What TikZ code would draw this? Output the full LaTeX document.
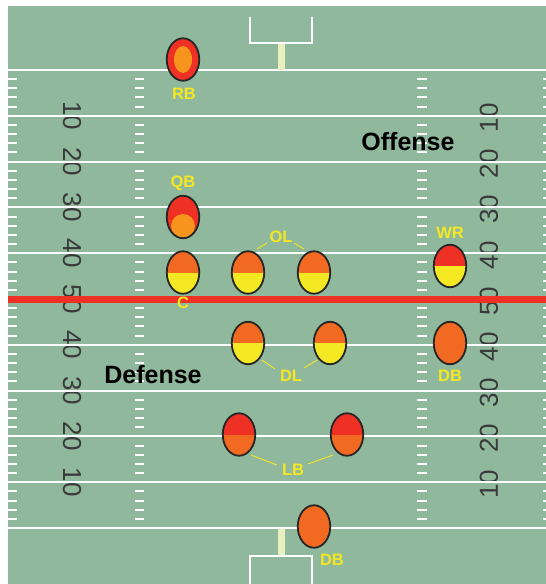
\documentclass[tikz,border=0pt]{standalone}
\usepackage{fontspec}
\setmainfont{Liberation Sans}
\usetikzlibrary{shapes.geometric,calc}
\definecolor{field}{HTML}{90B89C}
\definecolor{pred}{HTML}{EE3124}
\definecolor{porange}{HTML}{F26A21}
\definecolor{plight}{HTML}{F7941D}
\definecolor{pyellow}{HTML}{F4E823}
\definecolor{postcol}{HTML}{E9EFC0}
\definecolor{numcol}{HTML}{3A3A3A}
\begin{document}
\begin{tikzpicture}[x=1pt,y=-1pt,
 player/.style={ellipse, draw=black!85, line width=1.8pt, minimum width=32.5pt, minimum height=42.5pt, inner sep=0pt},
 twotone/.style 2 args={fill=#2, path picture={\fill[#1] (path picture bounding box.north west) rectangle (path picture bounding box.east);}},
 poslab/.style={text=pyellow, font=\bfseries\fontsize{16.5}{16.5}\selectfont, inner sep=1pt},
 conn/.style={draw=pyellow, line width=0.9pt},
 yard/.style={draw=white, line width=2pt},
 hashm/.style={draw=white, line width=2pt},
 ynum/.style={text=numcol, font=\fontsize{26}{26}\selectfont, inner sep=0pt},
 team/.style={font=\bfseries\fontsize{25}{25}\selectfont, text=black, inner sep=0pt},
 goal/.style={draw=white, line width=2pt},
]
\useasboundingbox (0,0) rectangle (546,584);
\fill[white] (0,0) rectangle (546,584);
\fill[field] (8,6) rectangle (546,584);
\begin{scope}
\clip (8,6) rectangle (546,584);
% hash marks
\foreach \j in {1,...,49} {
  \pgfmathtruncatemacro\m{mod(\j,5)}
  \ifnum\m=0\relax\else
    \pgfmathsetmacro\yy{70+9.16*\j}
    \draw[hashm] (8,\yy) -- (17,\yy) (135,\yy) -- (144,\yy) (417,\yy) -- (427,\yy) (543,\yy) -- (552,\yy);
  \fi
}
% yard numbers
\foreach \n [count=\i] in {10,20,30,40,50,40,30,20,10} {
  \node[ynum, rotate=-90] (L\i) at (72,{70+45.8*\i}) {\n};
  \node[ynum, rotate=90] (R\i) at (489,{72+45.8*\i}) {\n};
}
% yard lines
\foreach \i in {0,...,10} {
  \ifnum\i=5\relax\else
    \draw[yard] (8,{70+45.8*\i}) -- (546,{70+45.8*\i});
  \fi
}
% line of scrimmage
\fill[pred] (8,295.5) rectangle (546,302.5);
% goal posts
\fill[postcol] (277.5,43.5) rectangle (284.5,69.5);
\draw[goal] (250,17) -- (250,42.7) -- (312,42.7) -- (312,17);
\fill[postcol] (277.5,529) rectangle (284.5,555.5);
\draw[goal] (250,590) -- (250,556.3) -- (312,556.3) -- (312,590);
\end{scope}
% labels
\node[poslab] (RBlab) at (184,94) {RB};
\node[poslab] (QBlab) at (183,183) {QB};
\node[poslab] (Clab) at (183,303) {C};
\node[poslab] (OLlab) at (281,237) {OL};
\node[poslab] (WRlab) at (450,233) {WR};
\node[poslab] (DLlab) at (291,376) {DL};
\node[poslab] (DBlabA) at (450,376) {DB};
\node[poslab] (LBlab) at (293,470) {LB};
\node[poslab] (DBlabB) at (332,560) {DB};
% players
\node[player, fill=pred, path picture={\fill[plight] (path picture bounding box.center) ellipse (9pt and 13.5pt);}] (RB) at (183,59.5) {};
\node[player, fill=pred, path picture={\fill[plight] ($(path picture bounding box.center)+(0pt,-9pt)$) circle (12pt);}] (QB) at (183,217) {};
\node[player, twotone={porange}{pyellow}] (C) at (183,272.5) {};
\node[player, twotone={porange}{pyellow}] (OL1) at (248,272.5) {};
\node[player, twotone={porange}{pyellow}] (OL2) at (314,272.5) {};
\node[player, twotone={pred}{pyellow}] (WR) at (450,266) {};
\node[player, twotone={porange}{pyellow}] (DL1) at (248,343) {};
\node[player, twotone={porange}{pyellow}] (DL2) at (330,343) {};
\node[player, fill=porange] (DB1) at (450,343) {};
\node[player, twotone={pred}{porange}] (LB1) at (239,434.5) {};
\node[player, twotone={pred}{porange}] (LB2) at (347,434.5) {};
\node[player, fill=porange] (DB2) at (314,526.5) {};
% connectors
\draw[conn] ([shift={(-14,6)}]OLlab.center) -- ([shift={(9,-23.5)}]OL1.center);
\draw[conn] ([shift={(13,6)}]OLlab.center) -- ([shift={(-10,-23.5)}]OL2.center);
\draw[conn] ([shift={(-16,-7)}]DLlab.center) -- ([shift={(14,17)}]DL1.center);
\draw[conn] ([shift={(13,-8)}]DLlab.center) -- ([shift={(-13,17)}]DL2.center);
\draw[conn] ([shift={(-16,-5)}]LBlab.center) -- ([shift={(12,20.5)}]LB1.center);
\draw[conn] ([shift={(15,-6)}]LBlab.center) -- ([shift={(-14,20.5)}]LB2.center);
% team labels
\node[team] (off) at (408,142) {Offense};
\node[team] (def) at (153,375) {Defense};
\end{tikzpicture}
\end{document}
